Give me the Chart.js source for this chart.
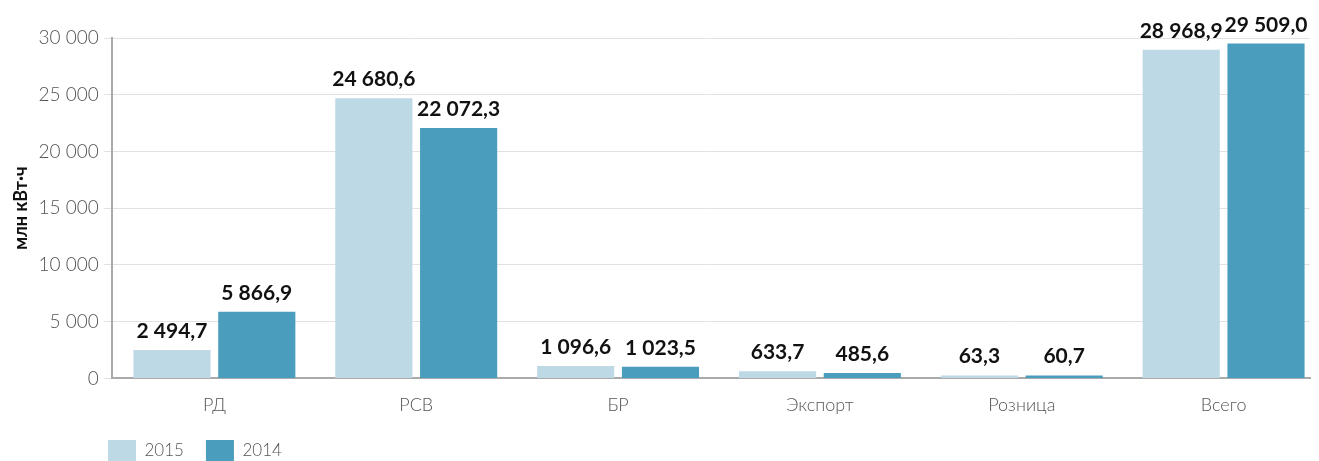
<!DOCTYPE html>
<html>
<head>
<meta charset="utf-8">
<script src="https://cdn.jsdelivr.net/npm/chart.js@4/dist/chart.umd.min.js"></script>
<style>
  html, body { margin: 0; padding: 0; background: #fff; }
  #wrap { width: 1319px; height: 461px; }
</style>
</head>
<body>
<div id="wrap"><canvas id="chart-one"></canvas></div>
<script>
const categories = ["РД", "РСВ", "БР", "Экспорт", "Розница", "Всего"];
const values2015 = [2494.7, 24680.6, 1096.6, 633.7, 63.3, 28968.9];
const values2014 = [5866.9, 22072.3, 1023.5, 485.6, 60.7, 29509.0];
const seriesLabels = ["2015", "2014"];
const axisTitle = "млн кВт·ч";

// 24680.6 -> "24 680,6"
function fmt(v, dec) {
  const parts = v.toFixed(dec).split(".");
  const int = parts[0].replace(/\B(?=(\d{3})+(?!\d))/g, " ");
  return parts.length > 1 ? int + "," + parts[1] : int;
}

// categories sit on a numeric x axis (0..5) so the slots can be shifted like in the picture
const toPoints = arr => arr.map((v, i) => ({ x: i, y: v }));

const barLabels = {
  id: "barLabels",
  afterDatasetsDraw(chart) {
    const ctx = chart.ctx;
    ctx.save();
    ctx.font = "bold 21px Lato";
    ctx.fillStyle = "#111";
    ctx.textAlign = "center";
    ctx.textBaseline = "alphabetic";
    chart.data.datasets.forEach((ds, i) => {
      chart.getDatasetMeta(i).data.forEach((bar, j) => {
        ctx.fillText(fmt(ds.data[j].y, 1), bar.x, bar.y - 12);
      });
    });
    ctx.restore();
  }
};

// move the legend to the left edge like in the picture
const legendLeft = {
  id: "legendLeft",
  afterLayout(chart) {
    if (chart.legend) chart.legend.left = 86;
  }
};

Chart.defaults.font.family = "Lato";

const ctx = document.getElementById('chart-one').getContext('2d');
const taskChart = new Chart(ctx, {
  type: "bar",
  data: {
    datasets: [{
      label: seriesLabels[0],
      data: toPoints(values2015),
      backgroundColor: "#BCD9E5",
      minBarLength: 3,
      categoryPercentage: 0.84,
      barPercentage: 0.91
    }, {
      label: seriesLabels[1],
      data: toPoints(values2014),
      backgroundColor: "#4B9DBD",
      minBarLength: 3,
      categoryPercentage: 0.84,
      barPercentage: 0.91
    }]
  },
  options: {
    responsive: true,
    maintainAspectRatio: false,
    animation: false,
    layout: { padding: { top: 38, right: 9, left: 8, bottom: -11 } },
    plugins: {
      legend: {
        position: "bottom",
        align: "start",
        labels: {
          boxWidth: 28,
          boxHeight: 22,
          padding: 22,
          color: "#555",
          font: { size: 17, weight: "300" }
        }
      },
      tooltip: { enabled: false }
    },
    scales: {
      x: {
        type: "linear",
        offset: false,
        min: -0.508,
        max: 5.428,
        grid: { display: false },
        border: { display: true, color: "#aaa", width: 2 },
        afterBuildTicks: s => {
          s.ticks = categories.map((c, i) => ({ value: i }));
        },
        ticks: {
          color: "#555",
          font: { size: 18, weight: "300" },
          padding: 8,
          autoSkip: false,
          maxRotation: 0,
          callback: v => categories[v]
        },
        afterFit: scale => { scale.height -= 6; }
      },
      y: {
        min: 0,
        max: 30000,
        ticks: {
          stepSize: 5000,
          color: "#555",
          font: { size: 19, weight: "300" },
          padding: 5,
          callback: v => fmt(v, 0)
        },
        grid: { color: "#e2e2e2", tickLength: 8 },
        border: { display: true, color: "#aaa", width: 2 },
        title: {
          display: true,
          text: axisTitle,
          color: "#111",
          font: { size: 18, weight: "bold" },
          padding: 2
        }
      }
    }
  },
  plugins: [barLabels, legendLeft]
});
</script>
</body>
</html>
